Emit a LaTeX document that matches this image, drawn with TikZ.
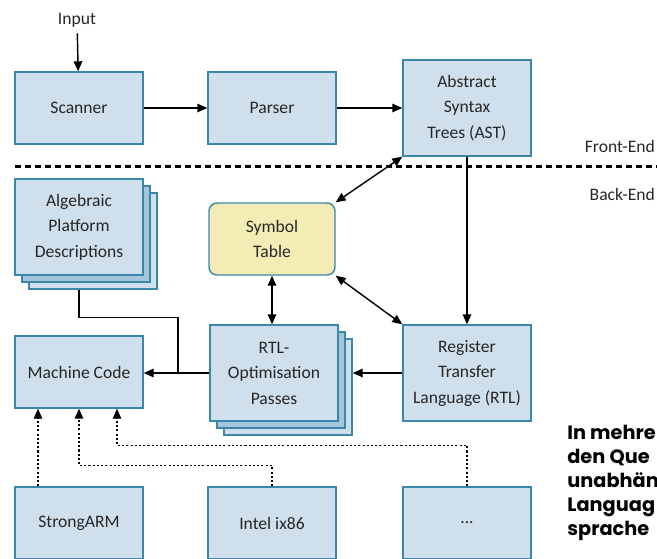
\documentclass[tikz,border=0pt]{standalone}
\usepackage{fontspec}
\setmainfont{Carlito}
\newfontfamily\capfont{Poppins}
\usetikzlibrary{arrows.meta}

\definecolor{boxblue}{HTML}{CFE0EC}
\definecolor{stackblue}{HTML}{A3C4DA}
\definecolor{edgeblue}{HTML}{3B87AA}
\definecolor{symyellow}{HTML}{F3EDB5}

\begin{document}
\begin{tikzpicture}[>={Triangle[length=2mm,width=1.7mm]},
  every node/.style={font=\fontsize{10}{14.5}\selectfont,text=black!85},
  box/.style={draw=edgeblue,line width=0.8pt,fill=boxblue,minimum width=2.56cm,minimum height=1.44cm,align=center},
  tall/.style={box,minimum height=1.92cm},
  link/.style={line width=0.8pt},
  plat/.style={line width=0.8pt,dash pattern=on 1.2pt off 1.2pt}]

\useasboundingbox (0,0) rectangle (13.14,-11.16);

%Front-End
\node (input) at (1.54,-0.4) {Input};
\node[box] (scan) at (1.58,-2.16) {Scanner};
\node[box] (parse) at (5.44,-2.16) {Parser};
\node[tall] (ast) at (9.34,-2.16) {Abstract\\Syntax\\Trees (AST)};

\draw[link,->] (input) -- (scan);
\draw[link,->] (scan) -- (parse);
\draw[link,->] (parse) -- (ast);

\draw[line width=1.7pt,dash pattern=on 3.4pt off 2.3pt] (0.3,-3.32) -- (13.4,-3.32);
\node[anchor=east,inner xsep=1pt] (fe) at (13.14,-2.92) {Front-End};
\node[anchor=east,inner xsep=1pt] (be) at (13.14,-3.88) {Back-End};

%Back-End
\node[tall] (alg3) at (1.86,-4.82) {};
\node[tall,fill=stackblue] (alg2) at (1.72,-4.68) {};
\node[tall] (alg) at (1.58,-4.54) {Algebraic\\Platform\\Descriptions};

\node[box,fill=symyellow,rounded corners=0.16cm,minimum width=2.52cm] (sym) at (5.44,-4.78) {Symbol\\Table};

\node[tall] (rtl3) at (5.76,-7.74) {};
\node[tall,fill=stackblue] (rtl2) at (5.62,-7.60) {};
\node[tall] (rtl) at (5.48,-7.46) {RTL-\\Optimisation\\Passes};

\node[tall] (reg) at (9.34,-7.46) {Register\\Transfer\\Language (RTL)};
\node[box] (mc) at (1.58,-7.44) {Machine Code};

\draw[link,<->] (ast.south west) -- (sym.north east);
\draw[link,<->] (sym.south east) -- (reg.north west);
\draw[link,->] (ast) -- (reg);
\draw[link,<->] (sym.south) -- (sym.south |- rtl.north);
\draw[link,->] (reg.west) -- (reg.west -| rtl3.east);
\draw[link,->] (rtl.west) -- (rtl.west -| mc.east);

\coordinate (join) at (3.56,-7.46);
\draw[link] (alg.center |- alg3.south) -- ++(0,-0.56) -| (join);

%platforms
\node[box] (arm) at (1.58,-10.46) {StrongARM};
\node[box] (intel) at (5.44,-10.46) {Intel ix86};
\node[box] (more) at (9.34,-10.46) {...};

\draw[plat,->] ([xshift=-0.82cm]arm.north) -- ([xshift=-0.82cm]mc.south);
\draw[plat,->] (intel.north) -- ++(0,0.42) -| (mc.south);
\draw[plat,->] (more.north) -- ++(0,0.82) -| ([xshift=0.76cm]mc.south);

\node[anchor=north west,align=left,inner sep=0pt,text=black,font=\capfont\bfseries\fontsize{11}{13.6}\selectfont] (note) at (11.34,-8.5) {In mehre\\den Que\\unabhän\\Languag\\sprache};

\end{tikzpicture}
\end{document}
